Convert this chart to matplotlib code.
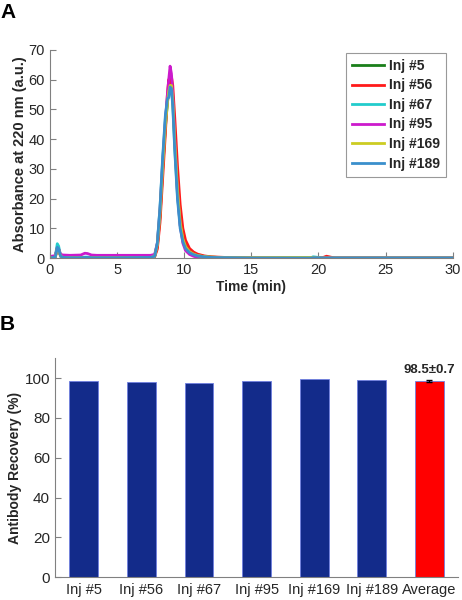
import matplotlib
matplotlib.use("Agg")
import matplotlib.pyplot as plt

plt.rcParams['font.family'] = ['Liberation Sans', 'DejaVu Sans']

# Panel A - chromatograms
t = [0, 0.4, 0.55, 0.65, 0.8, 1.0, 1.5, 2.3, 2.6, 2.8, 3.1, 3.5, 5, 7.5, 7.8,
     8.0, 8.2, 8.4, 8.6, 8.75, 8.85, 8.95, 9.05, 9.15, 9.3, 9.5, 9.7, 9.9,
     10.1, 10.4, 10.7, 11.0, 11.5, 12, 13, 15, 19.4, 19.6, 19.8, 20.3, 20.6,
     20.9, 21.2, 25, 30]
inj5 = [0, 0.3, 3.5, 3.0, 0.6, 0.2, 0.1, 0.1, 0.2, 0.2, 0.1, 0.1, 0.1, 0.2, 0.5,
        4, 14, 30, 44, 52, 57, 60, 59, 54, 40, 24, 13, 7,
        4, 2.2, 1.4, 0.9, 0.5, 0.3, 0.1, 0, 0, 0.1, 0.1, 0, 0,
        0, 0, 0, 0]
inj56 = [0, 0.3, 3.0, 2.8, 0.6, 0.2, 0.1, 0.1, 0.2, 0.2, 0.1, 0.1, 0.1, 0.2, 0.4,
         3, 12, 27, 42, 55, 60, 58, 61, 58, 47, 31, 18, 10,
         6, 3.2, 2.0, 1.3, 0.7, 0.4, 0.2, 0, 0, 0, 0, 0.1, 0.6,
         0.3, 0, 0, 0]
inj67 = [0, 0.4, 4.8, 4.0, 0.7, 0.2, 0.1, 0.1, 0.3, 0.3, 0.1, 0.1, 0.1, 0.2, 0.6,
         5, 17, 33, 47, 53, 55, 58, 57, 52, 37, 21, 11, 6,
         3.5, 2.0, 1.2, 0.8, 0.4, 0.2, 0.1, 0, 0, 0.4, 0.3, 0, 0,
         0, 0, 0, 0]
inj95 = [0.5, 0.8, 3.4, 3.0, 1.2, 1.0, 0.9, 1.0, 1.6, 1.5, 1.0, 0.9, 0.9, 0.9, 1.2,
         5, 16, 32, 46, 55, 60, 64.5, 62, 55, 40, 22, 11, 5,
         2.5, 1.2, 0.6, 0.2, 0, 0, 0, 0, 0, 0, 0, 0, 0,
         0, 0, 0, 0]
inj169 = [0, 0.3, 3.2, 2.8, 0.6, 0.2, 0.1, 0.1, 0.2, 0.2, 0.1, 0.1, 0.1, 0.2, 0.6,
          4.5, 15, 31, 45, 52, 56, 58, 58, 53, 39, 23, 12, 6.5,
          3.8, 2.1, 1.3, 0.8, 0.5, 0.3, 0.1, 0.1, 0.2, 0.2, 0.1, 0, 0,
          0, 0, 0, 0]
inj189 = [0, 0.3, 3.6, 3.1, 0.6, 0.2, 0.1, 0.1, 0.2, 0.2, 0.1, 0.1, 0.1, 0.2, 0.6,
          5, 17, 34, 48, 53.5, 54, 57.5, 57, 51, 36, 20, 10, 5.5,
          3.2, 1.8, 1.1, 0.7, 0.4, 0.2, 0.1, 0, 0, 0.1, 0.1, 0, 0,
          0, 0, 0, 0]
series = [inj5, inj56, inj67, inj95, inj169, inj189]
names = ['Inj #5', 'Inj #56', 'Inj #67', 'Inj #95', 'Inj #169', 'Inj #189']
colors = ['#1a7f1a', '#ff1a1a', '#22cccc', '#cc1acc', '#cccc22', '#3a8fcc']

# Panel B - recovery
bar_labels = ['Inj #5', 'Inj #56', 'Inj #67', 'Inj #95', 'Inj #169', 'Inj #189', 'Average']
recovery = [98.5, 98.2, 97.6, 98.4, 99.4, 99.1, 98.5]
avg_err = 0.7

fig = plt.figure(figsize=(4.62, 6), dpi=100)
grey = '#808080'
txt = '#262626'

axA = fig.add_axes([0.108, 0.57, 0.872, 0.347])
for y, c, n in zip(series, colors, names):
    axA.plot(t, y, color=c, lw=2, label=n)
axA.set_xlim(0, 30)
axA.set_ylim(0, 70)
axA.set_xticks(range(0, 31, 5))
axA.set_yticks(range(0, 71, 10))
axA.spines['top'].set_visible(False)
axA.spines['right'].set_visible(False)
for s in ['left', 'bottom']:
    axA.spines[s].set_color(grey)
axA.tick_params(direction='in', colors=grey, labelcolor=txt, labelsize=10.5, length=4)
axA.set_xlabel('Time (min)', fontweight='bold', fontsize=10, color=txt, labelpad=2)
axA.set_ylabel('Absorbance at 220 nm (a.u.)', fontweight='bold', fontsize=10.5, color=txt, labelpad=1)
leg = axA.legend(loc='upper right', bbox_to_anchor=(1.0, 1.02), frameon=True, fancybox=False,
                 handlelength=2.3, handletextpad=0.3, labelspacing=0.4, borderpad=0.45,
                 prop={'weight': 'bold', 'size': 10})
leg.get_frame().set_edgecolor(grey)
leg.get_frame().set_linewidth(0.8)
for tx in leg.get_texts():
    tx.set_color(txt)

axB = fig.add_axes([0.119, 0.038, 0.873, 0.365])
xs = list(range(len(bar_labels)))
bar_colors = ['#132b8a'] * 6 + ['#ff0000']
axB.bar(xs, recovery, width=0.5, color=bar_colors, edgecolor='#6f7fe0', linewidth=0.6)
axB.errorbar(xs[-1], recovery[-1], yerr=avg_err, fmt='none', ecolor='k', capsize=2, lw=0.8)
axB.text(xs[-1], recovery[-1] + 2.5, '98.5\u00b10.7', ha='center', va='bottom',
         fontweight='bold', fontsize=9.5, color=txt)
axB.set_xlim(-0.5, 6.5)
axB.set_ylim(0, 110)
axB.set_yticks(range(0, 101, 20))
axB.set_xticks(xs)
axB.set_xticklabels(bar_labels)
axB.spines['top'].set_visible(False)
axB.spines['right'].set_visible(False)
for s in ['left', 'bottom']:
    axB.spines[s].set_color(grey)
axB.tick_params(axis='y', direction='in', colors=grey, labelcolor=txt, labelsize=11, length=4)
axB.tick_params(axis='x', length=0, labelcolor=txt, labelsize=10.5, pad=4)
axB.set_ylabel('Antibody Recovery (%)', fontweight='bold', fontsize=10, color=txt, labelpad=2)

fig.text(0.0, 0.995, 'A', fontweight='bold', fontsize=15, va='top', ha='left')
fig.text(0.0, 0.475, 'B', fontweight='bold', fontsize=15, va='top', ha='left')

fig.savefig('out.png', dpi=100)
